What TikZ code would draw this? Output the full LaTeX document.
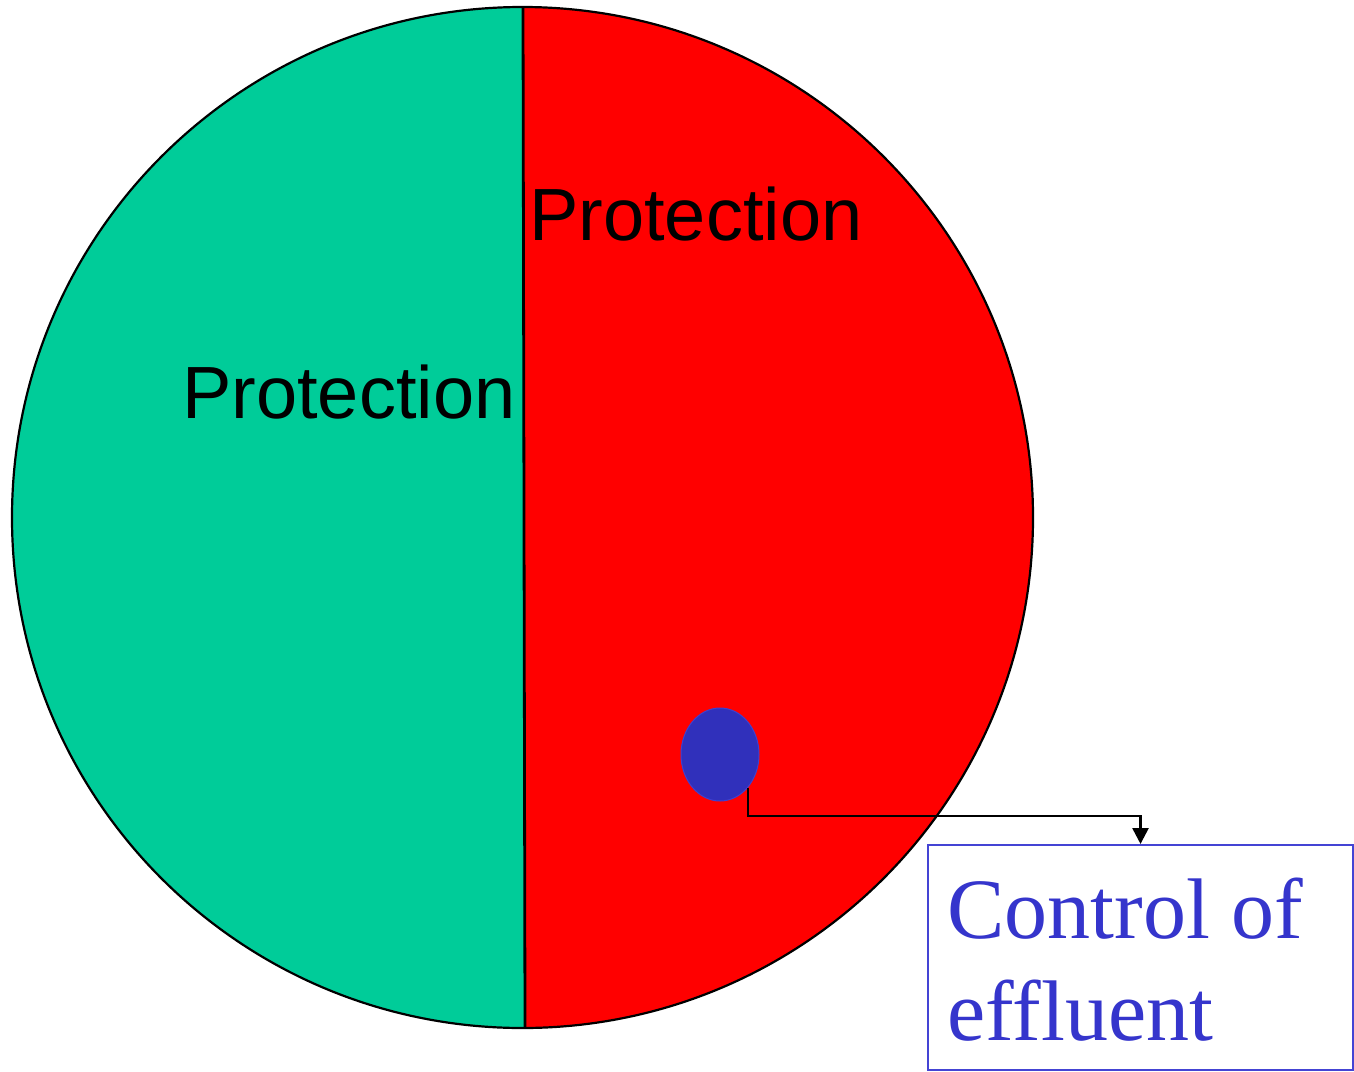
\documentclass[tikz,border=0pt]{standalone}
\usepackage{fontspec}
\setmainfont{Liberation Serif}
\newfontfamily\arialfont{Liberation Sans}
\usetikzlibrary{arrows.meta,shapes.geometric}
\definecolor{pgreen}{HTML}{00CC99}
\definecolor{pred}{HTML}{FF0000}
\definecolor{pblue}{HTML}{3030BB}
\definecolor{tblue}{HTML}{3535CC}
\definecolor{bblue}{HTML}{4444D4}
\tikzset{
  halflabel/.style={font=\arialfont\fontsize{74}{80}\selectfont, text=black, inner sep=0pt},
  effbox/.style={draw=bblue, line width=2pt, minimum width=425pt, minimum height=225pt, inner sep=0pt},
  efftext/.style={font=\fontsize{86}{102}\selectfont, text=tblue, align=left, inner sep=0pt},
  connector/.style={line width=2.6pt, -{Triangle[length=16pt,width=16pt]}}
}
\begin{document}
\begin{tikzpicture}[x=1pt,y=-1pt]
\useasboundingbox (0,0) rectangle (1354,1071);
% circle halves
\fill[pred] (522.5,517.5) circle (510.5);
\begin{scope}
  \clip (0,0) -- (523,7) -- (525,1028) -- (0,1071) -- cycle;
  \fill[pgreen] (522.5,517.5) circle (510.5);
\end{scope}
\draw[line width=2.2pt] (522.5,517.5) circle (510.5);
\coordinate (divtop) at (523,7);
\coordinate (divbot) at (525,1028);
\draw[line width=2.8pt] (divtop) -- (divbot);
% labels
\node[halflabel, anchor=base west] (protL) at (182,418) {Protection};
\node[halflabel, anchor=base west] (protR) at (529,240) {Protection};
% blue dot
\node[ellipse, fill=pblue, draw=bblue!80!pblue, line width=1pt, minimum width=78pt, minimum height=93pt, inner sep=0pt] (dot) at (720,754.5) {};
% box
\node[effbox, fill=white] (box) at (1140.5,957.5) {};
\node[efftext, anchor=base west] (efftxt) at (947,1040) {Control of\\effluent};
% connector
\coordinate (bend) at (1140.5,816);
\draw[connector] (dot.-50) |- (bend) -- (box.north);
\end{tikzpicture}
\end{document}
